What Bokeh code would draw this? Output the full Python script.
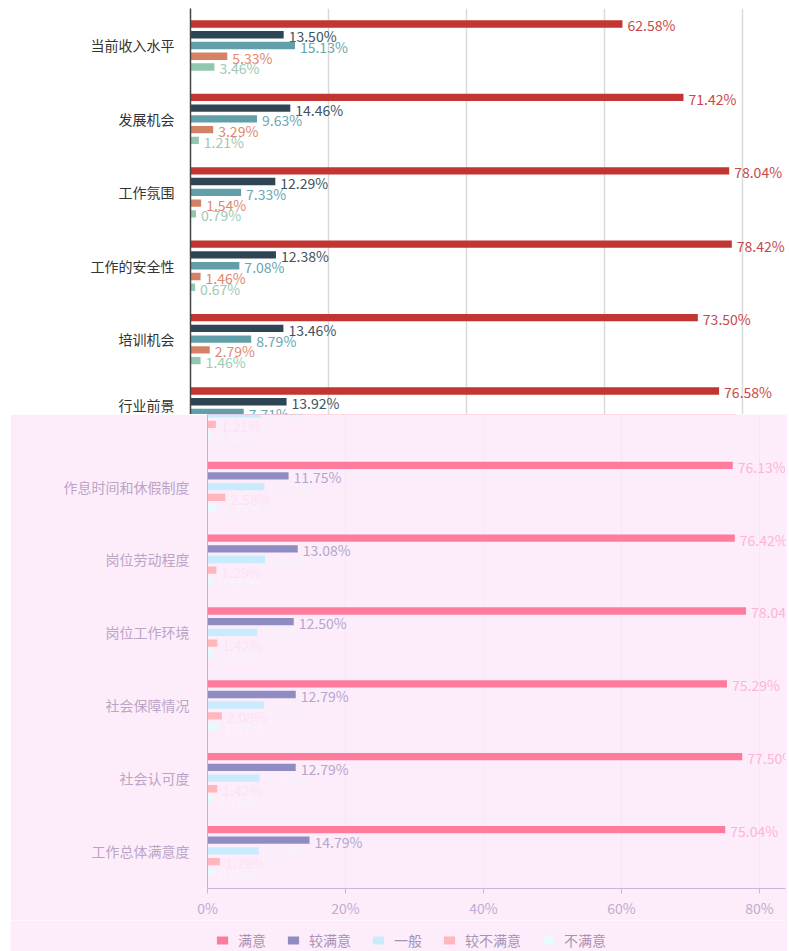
from bokeh.plotting import figure
from bokeh.models import (ColumnDataSource, FixedTicker, PrintfTickFormatter,
                          Legend, LegendItem, Range1d)
from bokeh.transform import dodge
from bokeh.embed import file_html
from bokeh.resources import INLINE
from bokeh.core.properties import value

FONT = "Noto Sans CJK SC"

# ---------------- data ----------------
series = ["满意", "较满意", "一般", "较不满意", "不满意"]

top_cats = ["当前收入水平", "发展机会", "工作氛围", "工作的安全性", "培训机会", "行业前景"]
top_satisfied = [62.58, 71.42, 78.04, 78.42, 73.50, 76.58]
top_fairly = [13.50, 14.46, 12.29, 12.38, 13.46, 13.92]
top_neutral = [15.13, 9.63, 7.33, 7.08, 8.79, 7.71]
top_fairly_un = [5.33, 3.29, 1.54, 1.46, 2.79, 1.21]
top_unsat = [3.46, 1.21, 0.79, 0.67, 1.46, 0.58]

bot_cats = ["行业前景", "作息时间和休假制度", "岗位劳动程度", "岗位工作环境",
            "社会保障情况", "社会认可度", "工作总体满意度"]
bot_satisfied = [76.58, 76.13, 76.42, 78.04, 75.29, 77.50, 75.04]
bot_fairly = [13.92, 11.75, 13.08, 12.50, 12.79, 12.79, 14.79]
bot_neutral = [7.71, 8.25, 8.33, 7.21, 8.17, 7.54, 7.42]
bot_fairly_un = [1.21, 2.58, 1.29, 1.42, 2.08, 1.42, 1.79]
bot_unsat = [0.58, 1.29, 0.88, 0.83, 1.67, 0.75, 0.96]

x_ticks = [0, 20, 40, 60, 80]

top_colors = ["#c23531", "#2f4554", "#61a0a8", "#d48265", "#91c7ae"]
top_label_colors = ["#c8494a", "#3e5364", "#6aa6ae", "#e08870", "#9ccab6"]
bot_colors = ["#ff7b9c", "#8f8cc2", "#c8ecfd", "#ffb6bd", "#e6fbfd"]
bot_label_colors = ["#ffb3d6", "#b3a6cf", "#f6f3fd", "#fbe3f3", "#f8f4fd"]

offsets = [0.293, 0.147, 0.0, -0.147, -0.293]
BAR_H = 0.1


def make_source(cats, cols):
    n = len(cats)
    d = {"y": [n - 1 - i for i in range(n)]}
    for k, vals in enumerate(cols):
        d[f"v{k}"] = vals
        d[f"t{k}"] = [f"{v:.2f}%" for v in vals]
    return ColumnDataSource(d)


def draw(p, src, colors, lcolors):
    rends = []
    for k in range(5):
        r = p.hbar(y=dodge("y", offsets[k], range=p.y_range), left=0,
                   right=f"v{k}", height=BAR_H, source=src,
                   fill_color=colors[k], line_color=None)
        rends.append(r)
        p.text(x=f"v{k}", y=dodge("y", offsets[k] - 0.02, range=p.y_range),
               text=f"t{k}", source=src, x_offset=5,
               text_baseline="middle", text_align="left",
               text_font=value(FONT), text_font_size="14px",
               text_color=lcolors[k])
    return rends


# ---------------- top chart ----------------
top_src = make_source(top_cats, [top_satisfied, top_fairly, top_neutral,
                                 top_fairly_un, top_unsat])
nt = len(top_cats)
pt = figure(width=787, height=414, output_backend="svg", toolbar_location=None,
            x_range=Range1d(0, 86.2), y_range=Range1d(-0.027, 5.504),
            min_border_left=190, min_border_right=2, min_border_top=8,
            min_border_bottom=0, background_fill_color="white",
            border_fill_color="white", outline_line_color=None)
draw(pt, top_src, top_colors, top_label_colors)
pt.xaxis.visible = False
pt.xgrid.ticker = FixedTicker(ticks=x_ticks)
pt.xgrid.grid_line_color = "#d9d9d9"
pt.xgrid.grid_line_width = 1.5
pt.ygrid.grid_line_color = None
pt.yaxis.ticker = FixedTicker(ticks=list(range(nt)))
pt.yaxis.major_label_overrides = {nt - 1 - i: c for i, c in enumerate(top_cats)}
pt.yaxis.major_tick_line_color = None
pt.yaxis.minor_tick_line_color = None
pt.yaxis.axis_line_color = "#444444"
pt.yaxis.axis_line_width = 1.5
pt.yaxis.major_label_text_font = FONT
pt.yaxis.major_label_text_font_size = "14px"
pt.yaxis.major_label_text_color = "#333333"
pt.yaxis.major_label_standoff = 10

# ---------------- bottom chart ----------------
bot_src = make_source(bot_cats, [bot_satisfied, bot_fairly, bot_neutral,
                                 bot_fairly_un, bot_unsat])
nb = len(bot_cats)
BG = "#fdedfb"
pb = figure(width=777, height=506, output_backend="svg", toolbar_location=None,
            x_range=Range1d(0, 83.77), y_range=Range1d(-0.516, 5.99),
            min_border_left=197, min_border_right=2, min_border_top=0,
            min_border_bottom=27, background_fill_color=BG,
            border_fill_color=BG, outline_line_color=None,
            margin=(0, 0, 0, 10))
draw(pb, bot_src, bot_colors, bot_label_colors)
pb.xaxis.ticker = FixedTicker(ticks=x_ticks)
pb.xaxis.formatter = PrintfTickFormatter(format="%d%%")
pb.xaxis.axis_line_color = "#cdb3dc"
pb.xaxis.major_tick_line_color = "#cdb3dc"
pb.xaxis.major_tick_in = 0
pb.xaxis.major_tick_out = 5
pb.xaxis.minor_tick_line_color = None
pb.xaxis.major_label_text_font = FONT
pb.xaxis.major_label_text_font_size = "14px"
pb.xaxis.major_label_text_color = "#c2aad2"
pb.xaxis.major_label_standoff = 4
pb.xgrid.ticker = FixedTicker(ticks=x_ticks)
pb.xgrid.grid_line_color = "#f9e4f8"
pb.ygrid.grid_line_color = None
pb.yaxis.ticker = FixedTicker(ticks=list(range(nb)))
pb.yaxis.major_label_overrides = {nb - 1 - i: c for i, c in enumerate(bot_cats)}
pb.yaxis.major_tick_line_color = None
pb.yaxis.minor_tick_line_color = None
pb.yaxis.axis_line_color = "#c9aedb"
pb.yaxis.major_label_text_font = FONT
pb.yaxis.major_label_text_font_size = "14px"
pb.yaxis.major_label_text_color = "#bca4c6"
pb.yaxis.major_label_standoff = 12

# ---------------- legend strip ----------------
pl = figure(width=777, height=31, output_backend="svg", toolbar_location=None,
            x_range=Range1d(0, 1), y_range=Range1d(0, 1),
            min_border=0, background_fill_color=BG, border_fill_color=BG,
            outline_line_color=None, margin=(0, 0, 0, 10))
pl.axis.visible = False
pl.grid.visible = False
# legend-only renderers: one off-screen zero-length bar each
stub = ColumnDataSource(dict(y=[-5], right=[0]))
leg_rends = [pl.hbar(y="y", right="right", left=0, height=0.1, source=stub,
                     fill_color=c, line_color=None) for c in bot_colors]
legend = Legend(items=[LegendItem(label=s, renderers=[r], index=0)
                       for s, r in zip(series, leg_rends)],
                orientation="horizontal", location=(205, 1),
                background_fill_color=BG, background_fill_alpha=1,
                border_line_color=None, glyph_width=14, glyph_height=10,
                label_standoff=9, label_text_font=FONT,
                label_text_font_size="14px",
                label_text_color="#a892b4", spacing=20, padding=2, margin=0)
pl.add_layout(legend, "center")

open("out.html", "w").write(file_html([pt, pb, pl], INLINE))
